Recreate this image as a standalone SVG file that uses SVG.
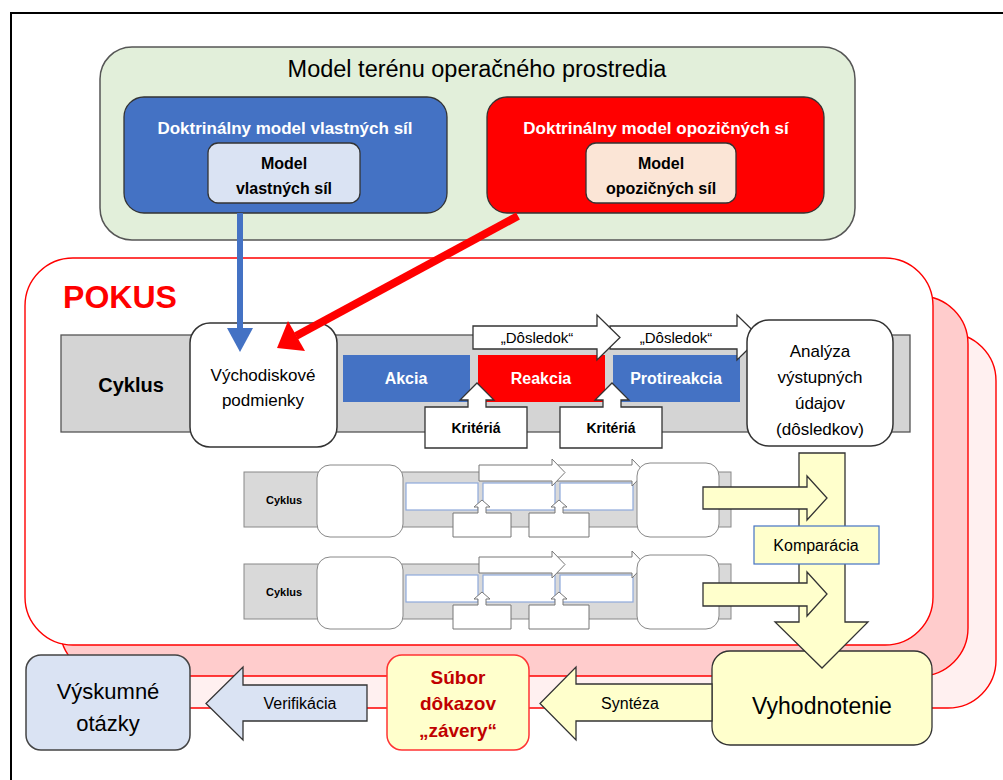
<svg xmlns="http://www.w3.org/2000/svg" width="1003" height="780" viewBox="0 0 1003 780">
<style>
text{font-family:"Liberation Sans",Arial,sans-serif;text-anchor:middle}
.b{font-weight:bold}
.w{fill:#fff}
.layer{stroke:#ff0000;stroke-width:1.4}
.gbar{fill:#d4d4d4;stroke:#555;stroke-width:1.3}
.sbar{fill:#d9d9d9;stroke:#888;stroke-width:1}
.rb{fill:#fff;stroke:#333;stroke-width:1.5}
.srb{fill:#fff;stroke:#888;stroke-width:1}
.arrw{fill:#fff;stroke:#333;stroke-width:1.3}
.sarr{fill:#fff;stroke:#777;stroke-width:1}
.srect{fill:#fff;stroke:#8ea9db;stroke-width:1.2}
.yel{fill:#ffffcc;stroke:#333;stroke-width:1.3}
</style>
<rect x="11" y="13" width="1010" height="800" fill="#fff" stroke="#000" stroke-width="2"/>

<g id="model-terenu">
<rect x="100" y="47" width="755" height="193" rx="32" fill="#e2efda" stroke="#555" stroke-width="1.5"/>
<text x="477" y="77" font-size="23.5">Model terénu operačného prostredia</text>
</g>
<g id="doktrinalny-vlastnych">
<rect x="124" y="97" width="323" height="116" rx="20" fill="#4472c4" stroke="#333" stroke-width="1.3"/>
<text x="285" y="134" font-size="17" class="b w">Doktrinálny model vlastných síl</text>
</g>
<g id="model-vlastnych">
<rect x="208" y="143" width="152" height="60" rx="10" fill="#dae3f3" stroke="#333" stroke-width="1.3"/>
<text x="284" y="169" font-size="16" class="b">Model</text>
<text x="284" y="194" font-size="16" class="b">vlastných síl</text>
</g>
<g id="doktrinalny-opozicnych">
<rect x="487" y="97" width="337" height="116" rx="20" fill="#ff0000" stroke="#333" stroke-width="1.3"/>
<text x="656" y="134" font-size="17" class="b w">Doktrinálny model opozičných sí</text>
</g>
<g id="model-opozicnych">
<rect x="586" y="143" width="150" height="60" rx="10" fill="#fbe5d6" stroke="#333" stroke-width="1.3"/>
<text x="661" y="169" font-size="16" class="b">Model</text>
<text x="661" y="194" font-size="16" class="b">opozičných síl</text>
</g>

<g id="pokus-layers">
<rect class="layer" x="95" y="333" width="901" height="375" rx="48" fill="#fff0f0"/>
<rect class="layer" x="60" y="296" width="908" height="380" rx="48" fill="#ffcccc"/>
<rect class="layer" x="25" y="258" width="908" height="387" rx="48" fill="#fff"/>
<text x="120" y="308" font-size="32" class="b" fill="#ff0000">POKUS</text>
</g>

<g id="cyklus-main">
<rect class="gbar" x="61" y="335" width="849" height="97"/>
<text x="131" y="392" font-size="20" class="b">Cyklus</text>
</g>
<g id="vychodiskove">
<rect class="rb" x="190" y="323" width="147" height="124" rx="20"/>
<text x="263" y="381" font-size="17">Východiskové</text>
<text x="263" y="406" font-size="17">podmienky</text>
</g>
<g id="akcia">
<rect x="343" y="355" width="127" height="47" fill="#4472c4"/>
<text x="406" y="384" font-size="16" class="b w">Akcia</text>
</g>
<g id="reakcia">
<rect x="478" y="355" width="127" height="47" fill="#ff0000"/>
<text x="541" y="384" font-size="16" class="b w">Reakcia</text>
</g>
<g id="protireakcia">
<rect x="613" y="355" width="127" height="47" fill="#4472c4"/>
<text x="676" y="384" font-size="16" class="b w">Protireakcia</text>
</g>
<g id="dosledok-2">
<path class="arrw" d="M610,326 H737 V315 L760,337.5 L737,360 V349 H610 Z"/>
<text x="676" y="343" font-size="15">„Dôsledok“</text>
</g>
<g id="dosledok-1">
<path class="arrw" d="M473,326 H597 V315 L620,337.5 L597,360 V349 H473 Z"/>
<text x="537" y="343" font-size="15">„Dôsledok“</text>
</g>
<g id="kriteria-1">
<path class="arrw" d="M425,448 V407 H468 V400 H460 L477,383 L494,400 H486 V407 H527 V448 Z"/>
<text x="476" y="433" font-size="14" class="b">Kritériá</text>
</g>
<g id="kriteria-2">
<path class="arrw" d="M560,448 V407 H603 V400 H595 L612,383 L629,400 H621 V407 H662 V448 Z"/>
<text x="611" y="433" font-size="14" class="b">Kritériá</text>
</g>
<g id="analyza">
<rect class="rb" x="747" y="320" width="146" height="126" rx="22"/>
<text x="820" y="357" font-size="17">Analýza</text>
<text x="820" y="383" font-size="17">výstupných</text>
<text x="820" y="409" font-size="17">údajov</text>
<text x="820" y="435" font-size="17">(dôsledkov)</text>
</g>

<g id="cyklus-small-1">
<rect class="sbar" x="244" y="472" width="487" height="55"/>
<text x="284" y="504" font-size="11" class="b">Cyklus</text>
<rect class="srb" x="317" y="465" width="86" height="72" rx="13"/>
<rect class="srect" x="406" y="483" width="72" height="27"/>
<rect class="srect" x="483" y="483" width="72" height="27"/>
<rect class="srect" x="560" y="483" width="73" height="27"/>
<path class="sarr" d="M557,465 H632 V459 L645,472.5 L632,486 V481 H557 Z"/>
<path class="sarr" d="M479,465 H552 V459 L565,472.5 L552,486 V481 H479 Z"/>
<path class="sarr" d="M453,537 V513 H478 V507 H474 L482,500 L490,507 H486 V513 H511 V537 Z"/>
<path class="sarr" d="M529,537 V513 H555 V507 H551 L559,500 L567,507 H563 V513 H589 V537 Z"/>
<rect class="srb" x="637" y="463" width="82" height="74" rx="13"/>
</g>
<g id="cyklus-small-2">
<rect class="sbar" x="244" y="564" width="487" height="55"/>
<text x="284" y="596" font-size="11" class="b">Cyklus</text>
<rect class="srb" x="317" y="557" width="86" height="72" rx="13"/>
<rect class="srect" x="406" y="575" width="72" height="27"/>
<rect class="srect" x="483" y="575" width="72" height="27"/>
<rect class="srect" x="560" y="575" width="73" height="27"/>
<path class="sarr" d="M557,557 H632 V551 L645,564.5 L632,578 V573 H557 Z"/>
<path class="sarr" d="M479,557 H552 V551 L565,564.5 L552,578 V573 H479 Z"/>
<path class="sarr" d="M453,629 V605 H478 V599 H474 L482,592 L490,599 H486 V605 H511 V629 Z"/>
<path class="sarr" d="M529,629 V605 H555 V599 H551 L559,592 L567,599 H563 V605 H589 V629 Z"/>
<rect class="srb" x="637" y="555" width="82" height="74" rx="13"/>
</g>

<g id="vyhodnotenie">
<rect class="yel" x="712" y="651" width="220" height="94" rx="18"/>
<text x="822" y="714" font-size="23">Vyhodnotenie</text>
</g>
<g id="subor">
<rect x="387" y="655" width="142" height="95" rx="15" fill="#ffffcc" stroke="#ff3333" stroke-width="1.5"/>
<text x="458" y="684" font-size="19" class="b" fill="#c00000">Súbor</text>
<text x="458" y="710" font-size="19" class="b" fill="#c00000">dôkazov</text>
<text x="458" y="737" font-size="19" class="b" fill="#c00000">„závery“</text>
</g>
<g id="vyskumne">
<rect x="26" y="655" width="164" height="95" rx="15" fill="#dae3f3" stroke="#444" stroke-width="1.5"/>
<text x="108" y="699" font-size="22">Výskumné</text>
<text x="108" y="731" font-size="22">otázky</text>
</g>

<g id="connectors">
<line x1="240" y1="213" x2="240" y2="330" stroke="#4472c4" stroke-width="6"/>
<path d="M227,328 L253,328 L240,352 Z" fill="#4472c4"/>
<line x1="518" y1="216" x2="296" y2="336" stroke="#ff0000" stroke-width="8"/>
<path d="M277,348 L288,321 L305,351 Z" fill="#ff0000"/>
<path class="yel" d="M799,453 H845 V622 H868 L822,668 L775,622 H799 Z"/>
<path class="yel" d="M703,487 H807 V476 L827,498 L807,520 V509 H703 Z"/>
<path class="yel" d="M703,583 H807 V572 L827,594 L807,616 V606 H703 Z"/>
<rect x="754" y="526" width="125" height="38" fill="#ffffcc" stroke="#4472c4" stroke-width="1.2"/>
<text x="816" y="551" font-size="16">Komparácia</text>
<path class="yel" d="M712,684 H576 V667 L540,703.5 L576,740 V721 H712 Z"/>
<text x="630" y="709" font-size="16">Syntéza</text>
<path d="M367,685 H243 V667 L206,703.5 L243,740 V721 H367 Z" fill="#dae3f3" stroke="#333" stroke-width="1.3"/>
<text x="300" y="709" font-size="16">Verifikácia</text>
</g>
</svg>
